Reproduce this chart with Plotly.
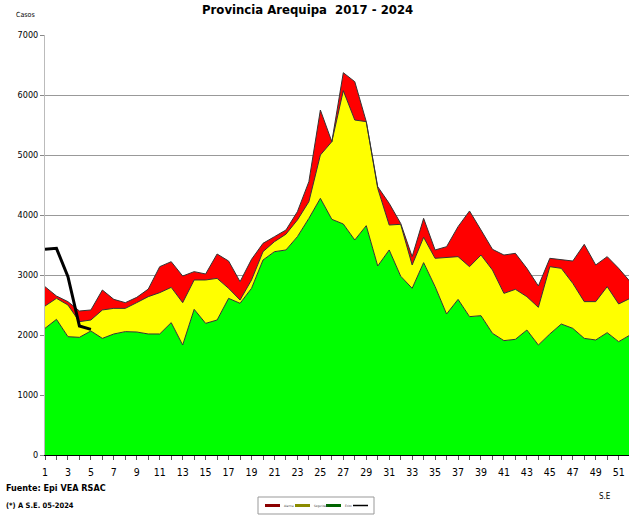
import plotly.graph_objects as go

weeks = list(range(1, 53))

exito = [2111, 2261, 1972, 1961, 2067, 1944, 2017, 2056, 2050, 2017,
         2017, 2206, 1833, 2428, 2194, 2250, 2611, 2528, 2778, 3250,
         3389, 3417, 3639, 3944, 4278, 3928, 3850, 3583, 3822, 3150,
         3417, 2980, 2778, 3206, 2806, 2350, 2594, 2306, 2322, 2028,
         1906, 1928, 2083, 1833, 2017, 2183, 2111, 1944, 1917, 2039,
         1889, 2000]

seguridad = [2483, 2611, 2500, 2222, 2250, 2417, 2444, 2444, 2540, 2639,
             2706, 2794, 2539, 2917, 2917, 2944, 2778, 2583, 2917, 3389,
             3556, 3680, 3917, 4222, 5000, 5222, 6072, 5583, 5556, 4444,
             3833, 3845, 3167, 3628, 3278, 3294, 3306, 3139, 3333, 3083,
             2694, 2761, 2639, 2461, 3139, 3111, 2861, 2556, 2556, 2806,
             2517, 2611]

alarma = [2805, 2650, 2556, 2400, 2417, 2750, 2594, 2539, 2628, 2765,
          3139, 3222, 2983, 3056, 3017, 3350, 3233, 2889, 3261, 3528,
          3639, 3750, 4056, 4556, 5750, 5222, 6372, 6222, 5556, 4472,
          4194, 3860, 3306, 3944, 3417, 3472, 3806, 4067, 3750, 3428,
          3333, 3361, 3111, 2817, 3278, 3250, 3233, 3511, 3167, 3306,
          3111, 2889]

weeks_2024 = [1, 2, 3, 4, 5]
casos_2024 = [3428, 3444, 2972, 2150, 2094]

y_ticks = [0, 1000, 2000, 3000, 4000, 5000, 6000, 7000]
x_tick_labels = [str(w) if w % 2 == 1 else "" for w in weeks]

legend_names = ["Alarma", "Seguridad", "Éxito", "2024"]
legend_colors = ["#8B0000", "#8B8B00", "#006400", "#000000"]

FONT = "DejaVu Sans Condensed, Liberation Sans Narrow, Arial Narrow, Liberation Sans, Arial"

fig = go.Figure()
fig.add_trace(go.Scatter(x=weeks, y=exito, mode="lines", fill="tozeroy",
                         fillcolor="#00FF00", line=dict(color="#333333", width=1),
                         name=legend_names[2], showlegend=False))
fig.add_trace(go.Scatter(x=weeks, y=seguridad, mode="lines", fill="tonexty",
                         fillcolor="#FFFF00", line=dict(color="#333333", width=1),
                         name=legend_names[1], showlegend=False))
fig.add_trace(go.Scatter(x=weeks, y=alarma, mode="lines", fill="tonexty",
                         fillcolor="#FF0000", line=dict(color="#333333", width=1),
                         name=legend_names[0], showlegend=False))
fig.add_trace(go.Scatter(x=weeks_2024, y=casos_2024, mode="lines",
                         line=dict(color="#000000", width=3),
                         name=legend_names[3], showlegend=False))

fig.update_layout(
    width=629, height=517,
    margin=dict(l=45, r=0, t=35, b=62, autoexpand=False),
    paper_bgcolor="white", plot_bgcolor="white",
    font=dict(family=FONT, color="#000000"),
    xaxis=dict(range=[1, 51.9], tickmode="array", tickvals=weeks,
               ticktext=x_tick_labels, ticks="outside", ticklen=4,
               tickcolor="#555555", showgrid=False, zeroline=False,
               showline=True, linecolor="#000000", linewidth=1,
               automargin=False, ticklabelstandoff=3,
               tickfont=dict(size=10.5, family=FONT)),
    yaxis=dict(range=[0, 7000], tickvals=y_ticks, ticks="outside", ticklen=4,
               tickcolor="#888888", showgrid=True, gridcolor="#999999",
               gridwidth=1, zeroline=False, showline=True,
               linecolor="#BBBBBB", linewidth=1, automargin=False,
               tickfont=dict(size=9, family=FONT)),
)

plot_l, plot_r, plot_t, plot_b = 45, 629, 35, 455
def px_x(x):
    return (x - plot_l) / (plot_r - plot_l)
def px_y(y):
    return (plot_b - y) / (plot_b - plot_t)

final_ann = [
    dict(text="<b>Provincia Arequipa  2017 - 2024</b>", x=px_x(307), y=px_y(9),
         xanchor="center", yanchor="middle", font=dict(size=13, family=FONT)),
    dict(text="Casos", x=px_x(14), y=px_y(15), xanchor="left", yanchor="middle",
         font=dict(size=7, family=FONT)),
    dict(text="<b>Fuente: Epi VEA RSAC</b>", x=px_x(4), y=px_y(488),
         xanchor="left", yanchor="middle", font=dict(size=9, family=FONT)),
    dict(text="<b>(*) A S.E. 05-2024</b>", x=px_x(4), y=px_y(505),
         xanchor="left", yanchor="middle", font=dict(size=7.5, family=FONT)),
    dict(text="S.E", x=px_x(597), y=px_y(496), xanchor="left", yanchor="middle",
         font=dict(size=8, family=FONT)),
]

shapes = [dict(type="rect", xref="paper", yref="paper",
               x0=px_x(258), x1=px_x(374), y0=px_y(514), y1=px_y(497),
               line=dict(color="#999999", width=1), fillcolor="white")]
sw_x = [265, 295, 326, 353]
lbl_x = [282, 312, 343, 369]
for i, name in enumerate(legend_names):
    shapes.append(dict(type="line", xref="paper", yref="paper",
                       x0=px_x(sw_x[i]), x1=px_x(sw_x[i] + 15),
                       y0=px_y(505.5), y1=px_y(505.5),
                       line=dict(color=legend_colors[i], width=3 if i < 3 else 1.5)))
    if i < 3:
        final_ann.append(dict(text=name, x=px_x(lbl_x[i]), y=px_y(505.5),
                              xanchor="left", yanchor="middle",
                              font=dict(size=3, family=FONT, color="#444444")))

for a in final_ann:
    a["xref"] = "paper"
    a["yref"] = "paper"
    a["showarrow"] = False

fig.update_layout(annotations=final_ann, shapes=shapes)
fig.write_html("out.html", config={"displayModeBar": False},
               post_script="document.body.style.margin='0';document.body.style.overflow='hidden';")
